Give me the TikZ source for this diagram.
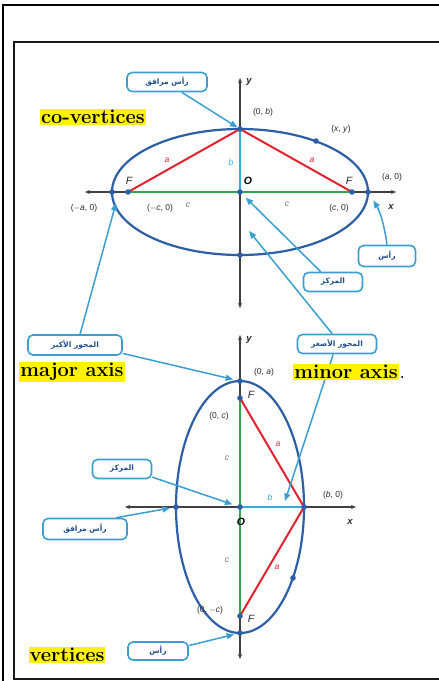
\documentclass[tikz,border=0pt]{standalone}
\usepackage{fontspec}
\usetikzlibrary{arrows.meta}
\TeXXeTstate=1
\newfontfamily\arfont[Script=Arabic]{DejaVu Sans}
\newfontfamily\lblfont{Liberation Sans}
\definecolor{ellblue}{HTML}{2D5FA6}
\definecolor{callcyan}{HTML}{3A9FD0}
\definecolor{arblue}{HTML}{1F4E8C}
\definecolor{segred}{HTML}{E2232F}
\definecolor{seggreen}{HTML}{2EA84A}
\definecolor{segcyan}{HTML}{38AAE2}
\definecolor{hlyellow}{HTML}{FFF200}
\definecolor{lblgray}{HTML}{2A2A2A}
\begin{document}
\begin{tikzpicture}[x=1pt,y=-1pt,
  callout/.style={draw=callcyan, line width=1.6pt, rounded corners=5pt, fill=white, minimum height=19pt, inner sep=1pt, font=\arfont\bfseries\fontsize{7.5}{8}\selectfont, text=arblue},
  ptr/.style={draw=callcyan, line width=1.5pt, -{Triangle[length=7.5pt,width=6pt]}},
  axisline/.style={draw=black!75, line width=1.1pt, {Stealth[length=5pt,width=4pt]}-{Stealth[length=5pt,width=4pt]}},
  ell/.style={draw=ellblue, line width=2.2pt},
  lbl/.style={font=\lblfont\fontsize{8.5}{9}\selectfont, text=lblgray, inner sep=0pt},
  hl/.style={fill=hlyellow, inner sep=1pt, font=\bfseries\fontsize{20}{20}\selectfont},
  seg/.style={line width=2pt}
]
\useasboundingbox (0,0) rectangle (439,681);
\fill[white] (0,0) rectangle (439,681);
% frames
\draw[black, line width=1.2pt] (3,681) -- (3,5) -- (439,5);
\draw[black!90, line width=2.6pt] (439,42) -- (14,42) -- (14,679) -- (439,679);

% ---------- top ellipse ----------
\coordinate (T) at (240,192);
\coordinate (Tva) at (112,192);
\coordinate (Tvb) at (368,192);
\coordinate (Tcb) at (240,129);
\coordinate (Tcbm) at (240,255);
\coordinate (TF1) at (128,192);
\coordinate (TF2) at (352,192);
\coordinate (Txy) at (316,141);
\coordinate (TxL) at (85,192);
\coordinate (TxR) at (396,192);
\coordinate (TyT) at (240,78);
\coordinate (TyB) at (240,308);
\draw[axisline] (TxL) -- (TxR);
\draw[axisline] (TyB) -- (TyT);
\draw[ell] (T) ellipse [x radius=128pt, y radius=63pt];
\draw[seg, seggreen] (TF1) -- (TF2);
\draw[seg, segcyan] (T) -- (Tcb);
\draw[seg, segred] (TF1) -- (Tcb) -- (TF2);
\foreach \p in {Tva,Tvb,Tcb,Tcbm,TF1,TF2,Txy,T}
  \fill[ellblue] (\p) circle[radius=2.8pt];

\node[lbl, font=\lblfont\bfseries\itshape\fontsize{9.5}{10}\selectfont] (ty) at (249,82) {y};
\node[lbl] (l0b) at (263,112) {(0, \textit{b})};
\node[lbl] (lxy) at (341,129) {(\textit{x}, \textit{y})};
\node[lbl] (la0) at (392,177) {(\textit{a}, 0)};
\node[lbl, font=\lblfont\bfseries\itshape\fontsize{9.5}{10}\selectfont] (tx) at (391,207) {x};
\node[lbl] (lma0) at (84,208) {($-$\textit{a}, 0)};
\node[lbl] (lmc0) at (160,208) {($-$\textit{c}, 0)};
\node[lbl, text=black!55] (tc1) at (188,205) {\textit{c}};
\node[lbl, text=black!55] (tc2) at (287,204) {\textit{c}};
\node[lbl] (lc0) at (339,208) {(\textit{c}, 0)};
\node[lbl, font=\lblfont\itshape\fontsize{10.5}{11}\selectfont] (tf1) at (129,181) {F};
\node[lbl, font=\lblfont\itshape\fontsize{10.5}{11}\selectfont] (tf2) at (349,181) {F};
\node[lbl, font=\lblfont\bfseries\itshape\fontsize{10.5}{11}\selectfont, text=black] (to) at (248,181) {O};
\node[lbl, text=segred] (ta1) at (167,160) {\textit{a}};
\node[lbl, text=segred] (ta2) at (312,160) {\textit{a}};
\node[lbl, text=segcyan] (tb) at (231,162) {\textit{b}};

% ---------- bottom ellipse ----------
\coordinate (B) at (240,507);
\coordinate (Bva) at (240,381);
\coordinate (Bvb) at (240,633);
\coordinate (Bcr) at (304,507);
\coordinate (Bcl) at (176,507);
\coordinate (BF1) at (240,398);
\coordinate (BF2) at (240,616);
\coordinate (Bxy) at (293,578);
\coordinate (BxL) at (125,507);
\coordinate (BxR) at (356,507);
\coordinate (ByT) at (240,335);
\coordinate (ByB) at (240,659);
\draw[axisline] (BxL) -- (BxR);
\draw[axisline] (ByB) -- (ByT);
\draw[ell] (B) ellipse [x radius=64pt, y radius=126pt];
\draw[seg, seggreen] (BF1) -- (BF2);
\draw[seg, segcyan] (B) -- (Bcr);
\draw[seg, segred] (BF1) -- (Bcr) -- (BF2);
\foreach \p in {Bva,Bvb,Bcr,Bcl,BF1,BF2,Bxy,B}
  \fill[ellblue] (\p) circle[radius=2.8pt];

\node[lbl, font=\lblfont\bfseries\itshape\fontsize{9.5}{10}\selectfont] (by) at (249,340) {y};
\node[lbl] (l0a) at (264,372) {(0, \textit{a})};
\node[lbl, font=\lblfont\itshape\fontsize{10.5}{11}\selectfont] (bf1) at (251,395) {F};
\node[lbl] (l0c) at (219,416) {(0, \textit{c})};
\node[lbl, text=black!55] (bc1) at (227,458) {\textit{c}};
\node[lbl, text=segred] (ba1) at (278,444) {\textit{a}};
\node[lbl, text=segcyan] (bb) at (270,497) {\textit{b}};
\node[lbl] (lb0) at (333,495) {(\textit{b}, 0)};
\node[lbl, font=\lblfont\bfseries\itshape\fontsize{10.5}{11}\selectfont, text=black] (bo) at (241,522) {O};
\node[lbl, font=\lblfont\bfseries\itshape\fontsize{9.5}{10}\selectfont] (bx) at (350,522) {x};
\node[lbl, text=black!55] (bc2) at (227,560) {\textit{c}};
\node[lbl, text=segred] (ba2) at (277,567) {\textit{a}};
\node[lbl] (l0mc) at (210,610) {(0, $-$\textit{c})};
\node[lbl, font=\lblfont\itshape\fontsize{10.5}{11}\selectfont] (bf2) at (251,619) {F};

% ---------- callout target coordinates ----------
\coordinate (Tmajor) at (116,203);
\coordinate (Tminor) at (249,231);
\coordinate (Bminor) at (285,501);

% ---------- callout boxes ----------
\node[callout, minimum width=80pt] (cov1) at (167,82) {\beginR رأس مرافق\endR};
\node[callout, minimum width=57pt, minimum height=21pt] (ver1) at (387,256) {\beginR رأس\endR};
\node[callout, minimum width=59pt] (cen1) at (333,282) {\beginR المركز\endR};
\node[callout, minimum width=79pt] (minax) at (337,344) {\beginR المحور الأصغر\endR};
\node[callout, minimum width=94pt, minimum height=20pt] (majax) at (75,345) {\beginR المحور الأكبر\endR};
\node[callout, minimum width=59pt] (cen2) at (122,469) {\beginR المركز\endR};
\node[callout, minimum width=84pt, minimum height=21pt] (cov2) at (85,529) {\beginR رأس مرافق\endR};
\node[callout, minimum width=60pt, minimum height=18pt] (ver2) at (158,651) {\beginR رأس\endR};

% ---------- pointers ----------
\draw[ptr, shorten >=3pt] (cov1.-35) -- (Tcb);
\draw[ptr, shorten >=10pt] (ver1.north) to[bend right=12] (Tvb);
\draw[ptr, shorten >=8pt] (cen1.140) -- (T);
\draw[ptr] (minax.115) -- (Tminor);
\draw[ptr] (minax.250) -- (Bminor);
\draw[ptr] (majax.65) -- (Tmajor);
\draw[ptr, shorten >=7pt] (majax.-10) -- (Bva);
\draw[ptr, shorten >=8pt] (cen2.-15) -- (B);
\draw[ptr, shorten >=6pt] (cov2.20) -- (Bcl);
\draw[ptr, shorten >=6pt] (ver2.10) -- (Bvb);

% ---------- highlighted English texts ----------
\node[hl] (tcov) at (93,117) {co-vertices};
\node[hl] (tmaj) at (72,372) {major axis};
\node[hl] (tmin) at (346,372) {minor axis};
\node[anchor=base west, inner sep=0pt, font=\bfseries\fontsize{14}{14}\selectfont] (tdot) at ([xshift=1pt]tmin.base east) {.};
\node[hl] (tver) at (67,655) {vertices};
\end{tikzpicture}
\end{document}
